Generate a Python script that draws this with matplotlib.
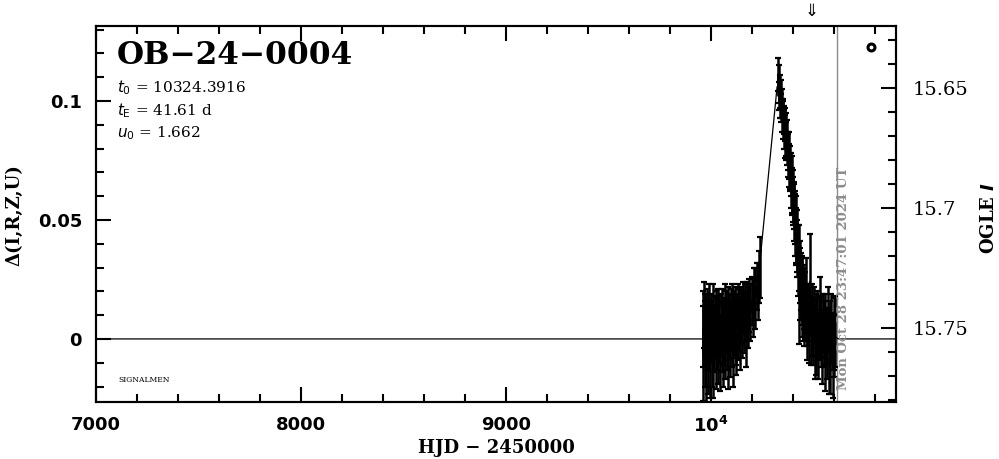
import matplotlib
matplotlib.use("Agg")
import matplotlib.pyplot as plt
import numpy as np
from matplotlib.ticker import MultipleLocator, FixedLocator


# -----------------------------
# datos
# -----------------------------
event_name = "OB\u221224\u22120004"
t0_txt = r"$t_0$ = 10324.3916"
tE_txt = r"$t_{\rm E}$ = 41.61 d"
u0_txt = r"$u_0$ = 1.662"
stamp = "Mon Oct 28 23:47:01 2024 UT"

# primera parte de la curva (linea base)
hjd1 = np.array([
    9961, 9963, 9966, 9969, 9972, 9975, 9978, 9981, 9984, 9987,
    9990, 9994, 9998, 10001, 10004, 10008, 10011, 10015, 10018, 10022,
    10026, 10029, 10033, 10036, 10040, 10044, 10047, 10051, 10055, 10058,
    10062, 10066, 10069, 10073, 10077, 10081, 10084, 10088, 10092, 10096,
    10100, 10104, 10108, 10112, 10116, 10120, 10124, 10129, 10133, 10137,
    10141, 10146, 10150, 10155, 10160, 10165, 10170, 10175, 10180, 10186,
    10192, 10198, 10204, 10210, 10216, 10222, 10228, 10234, 10239])
dI1 = np.array([
    0.004, -0.006, 0.010, -0.002, 0.006, -0.010, 0.002, 0.009, -0.004, 0.001,
    0.012, -0.009, 0.003, 0.007, -0.003, 0.011, -0.007, 0.000, 0.005, -0.005,
    0.008, 0.002, -0.002, 0.010, 0.004, -0.006, 0.006, 0.001, 0.009, -0.003,
    0.003, 0.012, -0.001, 0.007, 0.002, -0.004, 0.010, 0.005, 0.000, 0.008,
    0.003, 0.011, -0.002, 0.006, 0.009, 0.001, 0.004, 0.012, 0.005, 0.008,
    0.002, 0.010, 0.006, 0.013, 0.007, 0.011, 0.004, 0.012, 0.009, 0.014,
    0.011, 0.016, 0.013, 0.019, 0.017, 0.022, 0.020, 0.026, 0.030])
err1 = np.array([
    0.016, 0.020, 0.014, 0.018, 0.013, 0.017, 0.015, 0.012, 0.019, 0.014,
    0.011, 0.016, 0.013, 0.012, 0.017, 0.012, 0.018, 0.014, 0.013, 0.016,
    0.012, 0.015, 0.017, 0.011, 0.014, 0.016, 0.013, 0.015, 0.012, 0.017,
    0.014, 0.011, 0.016, 0.013, 0.015, 0.017, 0.012, 0.014, 0.016, 0.013,
    0.015, 0.012, 0.018, 0.014, 0.013, 0.016, 0.015, 0.011, 0.014, 0.013,
    0.015, 0.012, 0.014, 0.011, 0.013, 0.012, 0.016, 0.012, 0.013, 0.011,
    0.012, 0.010, 0.012, 0.011, 0.013, 0.010, 0.012, 0.011, 0.013])

# segunda parte (pico y bajada)
hjd2 = np.array([
    10326, 10329, 10331, 10334, 10336, 10339, 10341, 10344, 10346, 10349,
    10351, 10354, 10356, 10359, 10361, 10364, 10366, 10369, 10371, 10374,
    10376, 10379, 10381, 10384, 10386, 10389, 10391, 10394, 10396, 10399,
    10401, 10404, 10406, 10409, 10411, 10414, 10416, 10419, 10421, 10424,
    10427, 10430, 10433, 10436, 10439, 10442, 10445, 10448, 10452, 10455,
    10459, 10462, 10466, 10470, 10474, 10478, 10482, 10486, 10490, 10494,
    10498, 10502, 10506, 10510, 10514, 10518, 10522, 10526, 10530, 10534,
    10538, 10542, 10546, 10550, 10554, 10558, 10562, 10566, 10570, 10574,
    10578, 10582, 10586, 10590, 10594, 10598, 10602, 10605])
dI2 = np.array([
    0.111, 0.102, 0.107, 0.099, 0.104, 0.097, 0.101, 0.094, 0.099, 0.092,
    0.094, 0.088, 0.092, 0.085, 0.090, 0.083, 0.086, 0.080, 0.084, 0.077,
    0.079, 0.073, 0.077, 0.070, 0.072, 0.066, 0.069, 0.062, 0.065, 0.058,
    0.060, 0.053, 0.056, 0.048, 0.051, 0.043, 0.046, 0.038, 0.041, 0.033,
    0.034, 0.016, 0.028, 0.023, 0.024, 0.018, 0.020, 0.015, 0.017, 0.012,
    0.014, 0.018, 0.010, 0.006, 0.011, 0.004, 0.024, 0.002, 0.008, 0.005,
    0.003, 0.010, -0.002, 0.006, 0.001, 0.008, -0.003, 0.004, 0.009, 0.000,
    0.005, -0.004, 0.007, 0.002, -0.006, 0.006, 0.001, -0.002, 0.008, -0.005,
    0.003, -0.007, 0.005, -0.001, -0.008, 0.002, -0.003, 0.003])
err2 = np.array([
    0.007, 0.006, 0.008, 0.006, 0.007, 0.006, 0.008, 0.007, 0.006, 0.008,
    0.007, 0.008, 0.006, 0.009, 0.007, 0.008, 0.009, 0.007, 0.008, 0.009,
    0.008, 0.009, 0.010, 0.008, 0.009, 0.011, 0.009, 0.010, 0.012, 0.010,
    0.011, 0.012, 0.010, 0.013, 0.011, 0.012, 0.014, 0.012, 0.013, 0.015,
    0.014, 0.018, 0.013, 0.015, 0.012, 0.017, 0.014, 0.016, 0.013, 0.015,
    0.014, 0.016, 0.013, 0.015, 0.012, 0.014, 0.020, 0.013, 0.015, 0.012,
    0.014, 0.012, 0.015, 0.013, 0.016, 0.012, 0.014, 0.013, 0.017, 0.012,
    0.013, 0.015, 0.012, 0.014, 0.016, 0.013, 0.012, 0.015, 0.014, 0.018,
    0.013, 0.016, 0.014, 0.012, 0.017, 0.015, 0.013, 0.015])

# modelo
hjd_model = [7000, 9960, 9962, 10000, 10050, 10100, 10150, 10200, 10239,
             10322, 10327, 10340, 10360, 10380, 10400, 10420, 10440, 10460,
             10480, 10500, 10550, 10605, 10620, 10902]
dI_model = [0.0, 0.0, 0.001, 0.002, 0.003, 0.005, 0.008, 0.015, 0.033,
            0.106, 0.106, 0.098, 0.086, 0.074, 0.060, 0.045, 0.030, 0.018,
            0.010, 0.006, 0.003, 0.001, 0.0, 0.0]

x_major = [7000, 8000, 9000, 10000]
x_labels = ["7000", "8000", "9000", r"$\mathbf{10^4}$"]
y_major = [0, 0.05, 0.1]
y_labels = ["0", "0.05", "0.1"]
mag_major = [15.65, 15.7, 15.75]
mag_labels = ["15.65", "15.7", "15.75"]

now_line = 10612
arrow_hjd = 10488
marker_pos = (10780, 0.1227)


# -----------------------------
# figura
# -----------------------------
fig = plt.figure(figsize=(9.99, 4.59), dpi=100)
ax = fig.add_axes([0.0961, 0.1242, 0.8008, 0.8192])

ax.plot(hjd_model, dI_model, color="black", lw=0.9, zorder=2)
for t, d, e in [(hjd1, dI1, err1), (hjd2, dI2, err2)]:
    ax.errorbar(t, d, yerr=e, fmt="none", ecolor="black", elinewidth=1.8,
                capsize=2, capthick=1.6, zorder=3)
    ax.plot(t, d, color="black", lw=1.4, zorder=3)

ax.axvline(now_line, color="#8c8c8c", lw=1.0, zorder=1)
ax.text(now_line + 33, -0.0215, stamp, rotation=90, ha="center", va="bottom",
        color="#8c8c8c", fontsize=9.5, fontweight="bold", family="DejaVu Serif")

ax.plot(*marker_pos, marker="o", ms=5, mfc="white", mec="black", mew=2.2,
        clip_on=False)

ax.annotate("\u21d3", xy=(arrow_hjd, 1.0), xycoords=("data", "axes fraction"),
            xytext=(0, 11), textcoords="offset points", ha="center",
            va="center", fontsize=12, annotation_clip=False)

ax.set_xlim(7000, 10902)
ax.set_ylim(-0.0265, 0.1315)

ax.xaxis.set_major_locator(FixedLocator(x_major))
ax.set_xticklabels(x_labels)
ax.xaxis.set_minor_locator(MultipleLocator(200))
ax.yaxis.set_major_locator(FixedLocator(y_major))
ax.set_yticklabels(y_labels)
ax.yaxis.set_minor_locator(MultipleLocator(0.01))

ax.tick_params(axis="x", which="both", direction="in", top=True, bottom=True,
               width=1.5, pad=10, labelsize=13)
ax.tick_params(axis="y", which="both", direction="in", left=True, right=False,
               width=1.5, pad=10, labelsize=13)
ax.tick_params(which="major", length=11)
ax.tick_params(which="minor", length=5.5)
for lab in ax.get_xticklabels() + ax.get_yticklabels():
    lab.set_fontweight("bold")
for sp in ax.spines.values():
    sp.set_linewidth(1.5)

ax2 = ax.twinx()
ax2.set_ylim(15.7808, 15.6242)
ax2.yaxis.set_major_locator(FixedLocator(mag_major))
ax2.set_yticklabels(mag_labels, family="DejaVu Serif")
ax2.yaxis.set_minor_locator(MultipleLocator(0.01))
ax2.tick_params(axis="y", which="both", direction="in", width=1.5, pad=12,
                labelsize=14)
ax2.tick_params(which="major", length=11)
ax2.tick_params(which="minor", length=6)
for sp in ax2.spines.values():
    sp.set_linewidth(1.5)

# textos
ax.text(0.026, 0.962, event_name, transform=ax.transAxes, ha="left", va="top",
        fontsize=22.5, fontweight="bold", family="DejaVu Serif")
ax.text(0.026, 0.835, t0_txt, transform=ax.transAxes, fontsize=11,
        family="DejaVu Serif", va="center")
ax.text(0.026, 0.774, tE_txt, transform=ax.transAxes, fontsize=11,
        family="DejaVu Serif", va="center")
ax.text(0.026, 0.715, u0_txt, transform=ax.transAxes, fontsize=11,
        family="DejaVu Serif", va="center")
ax.text(0.028, 0.058, "SIGNALMEN", transform=ax.transAxes, fontsize=5.5,
        family="DejaVu Serif", va="center")

fig.text(496 / 999, 1 - 448 / 459, "HJD \u2212 2450000", ha="center",
         va="center", fontsize=13, fontweight="bold", family="DejaVu Serif")
fig.text(14 / 999, 1 - 215 / 459, "\u0394(I,R,Z,U)", rotation=90, ha="center",
         va="center", fontsize=13, fontweight="bold", family="DejaVu Serif")
fig.text(989 / 999, 1 - 218 / 459, r"OGLE $\mathbfit{I}$", rotation=90,
         ha="center", va="center", fontsize=13, fontweight="bold",
         family="DejaVu Serif")

fig.savefig("out.png", dpi=100)
